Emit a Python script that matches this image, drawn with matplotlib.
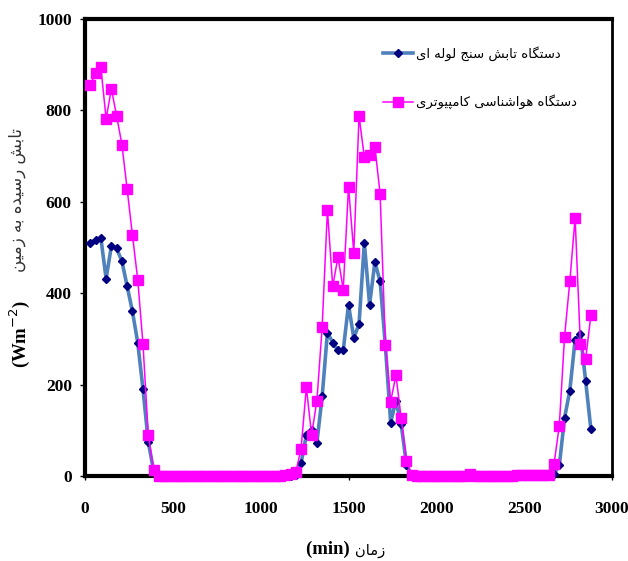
import numpy as np
import matplotlib
matplotlib.use("Agg")
import matplotlib.pyplot as plt

# زمان (دقیقه)
zaman = np.arange(30, 2881, 30)

# دستگاه تابش سنج لوله ای
tabesh_loole = [
    510, 517, 521, 432, 503, 498, 470, 415, 360, 292, 190, 75, 12, 0,
    0, 0, 0, 0, 0, 0, 0, 0, 0, 0, 0, 0, 0, 0, 0, 0, 0, 0, 0, 0, 0, 0, 0, 0, 0,
    2, 28, 90, 101, 73, 174, 314, 292, 275, 275, 375, 302, 333, 510, 375, 468,
    426, 285, 117, 165, 113, 25, 0,
    0, 0, 0, 0, 0, 0, 0, 0, 0, 0, 0, 0, 0, 0, 0, 0, 0, 0, 0, 0, 0, 0, 0, 0, 0,
    0, 5, 23, 127, 187, 298, 311, 208, 102,
]

# دستگاه هواشناسی کامپیوتری
tabesh_havashenasi = [
    855, 882, 895, 782, 847, 788, 725, 627, 527, 430, 288, 90, 14, 0,
    0, 0, 0, 0, 0, 0, 0, 0, 0, 0, 0, 0, 0, 0, 0, 0, 0, 0, 0, 0, 0, 0, 0, 2, 5,
    8, 60, 194, 90, 165, 326, 582, 415, 479, 408, 633, 489, 788, 698, 703, 721,
    617, 287, 163, 221, 126, 33, 3,
    0, 0, 0, 0, 0, 0, 0, 0, 0, 0, 5, 0, 0, 0, 0, 0, 0, 0, 0, 2, 2, 2, 2, 2, 2,
    3, 26, 110, 305, 426, 565, 289, 256, 352,
]

xticks = [0, 500, 1000, 1500, 2000, 2500, 3000]
yticks = [0, 200, 400, 600, 800, 1000]

# شکل‌های حروف برای نمایش فارسی (تنها، پایانی، آغازی، میانی)
FORMS = {
    'ا': ('\uFE8D', '\uFE8E', None, None),
    'ب': ('\uFE8F', '\uFE90', '\uFE91', '\uFE92'),
    'پ': ('\uFB56', '\uFB57', '\uFB58', '\uFB59'),
    'ت': ('\uFE95', '\uFE96', '\uFE97', '\uFE98'),
    'ج': ('\uFE9D', '\uFE9E', '\uFE9F', '\uFEA0'),
    'د': ('\uFEA9', '\uFEAA', None, None),
    'ر': ('\uFEAD', '\uFEAE', None, None),
    'ز': ('\uFEAF', '\uFEB0', None, None),
    'س': ('\uFEB1', '\uFEB2', '\uFEB3', '\uFEB4'),
    'ش': ('\uFEB5', '\uFEB6', '\uFEB7', '\uFEB8'),
    'ک': ('\uFB8E', '\uFB8F', '\uFB90', '\uFB91'),
    'گ': ('\uFB92', '\uFB93', '\uFB94', '\uFB95'),
    'ل': ('\uFEDD', '\uFEDE', '\uFEDF', '\uFEE0'),
    'م': ('\uFEE1', '\uFEE2', '\uFEE3', '\uFEE4'),
    'ن': ('\uFEE5', '\uFEE6', '\uFEE7', '\uFEE8'),
    'ه': ('\uFEE9', '\uFEEA', '\uFEEB', '\uFEEC'),
    'و': ('\uFEED', '\uFEEE', None, None),
    'ی': ('\uFBFC', '\uFBFD', '\uFBFE', '\uFBFF'),
}


def fa(text):
    out = []
    for i, ch in enumerate(text):
        if ch not in FORMS:
            out.append(ch)
            continue
        prev = text[i - 1] if i > 0 else None
        nxt = text[i + 1] if i + 1 < len(text) else None
        join_prev = prev in FORMS and FORMS[prev][2] is not None
        join_next = FORMS[ch][2] is not None and nxt in FORMS
        if join_prev and join_next:
            out.append(FORMS[ch][3])
        elif join_prev:
            out.append(FORMS[ch][1])
        elif join_next:
            out.append(FORMS[ch][2])
        else:
            out.append(FORMS[ch][0])
    return ''.join(reversed(out))


fam = ['Liberation Serif', 'DejaVu Sans']

fig = plt.figure(figsize=(6.28, 5.61), dpi=100)
ax = fig.add_axes([0.1354, 0.1515, 0.8391, 0.8146])

ax.plot(zaman, tabesh_loole, color="#4F81BD", linewidth=2.6,
        marker="D", markersize=4.5, markerfacecolor="#000080",
        markeredgecolor="#000080", clip_on=False, zorder=3,
        label=fa("دستگاه تابش سنج لوله ای"))
ax.plot(zaman, tabesh_havashenasi, color="#FF00FF", linewidth=1.1,
        marker="s", markersize=7.5, markerfacecolor="#FF00FF",
        markeredgecolor="#FF00FF", clip_on=False, zorder=4,
        label=fa("دستگاه هواشناسی کامپیوتری"))

ax.set_xlim(0, 3000)
ax.set_ylim(0, 1000)
ax.set_xticks(xticks)
ax.set_yticks(yticks)
for lab in ax.get_xticklabels() + ax.get_yticklabels():
    lab.set_fontfamily('Liberation Serif')
    lab.set_fontweight('bold')
    lab.set_fontsize(12.5)
ax.tick_params(axis='x', length=3, width=1, pad=15)
ax.tick_params(axis='y', length=3.5, width=1, pad=6)

for side in ['left', 'bottom', 'top']:
    ax.spines[side].set_linewidth(3)
ax.spines['right'].set_linewidth(2)

leg = ax.legend(loc='upper left', bbox_to_anchor=(0.553, 0.955),
                frameon=False, handlelength=2.3, handletextpad=0.2,
                labelspacing=2.55, borderpad=0,
                prop={'family': 'DejaVu Sans', 'size': 9.5})

# برچسب محور افقی
fig.text(355 / 628, 1 - 549 / 561, "(min) ", family=fam, fontweight='bold',
         fontsize=13.5, ha='right', va='center')
fig.text(355 / 628, 1 - 551 / 561, fa("زمان"), family='DejaVu Sans',
         fontsize=10.5, ha='left', va='center')

# برچسب محور عمودی
fig.text(20 / 628, 1 - 334 / 561, "(Wm$^{-2}$)", family=fam,
         fontweight='bold', fontsize=13.5, rotation=90, ha='center',
         va='center')
fig.text(17 / 628, 1 - 200 / 561, fa("تابش رسیده به زمین"),
         family='DejaVu Sans', fontsize=12, rotation=90, ha='center',
         va='center', color='#333333')

fig.savefig("out.png", dpi=100)
